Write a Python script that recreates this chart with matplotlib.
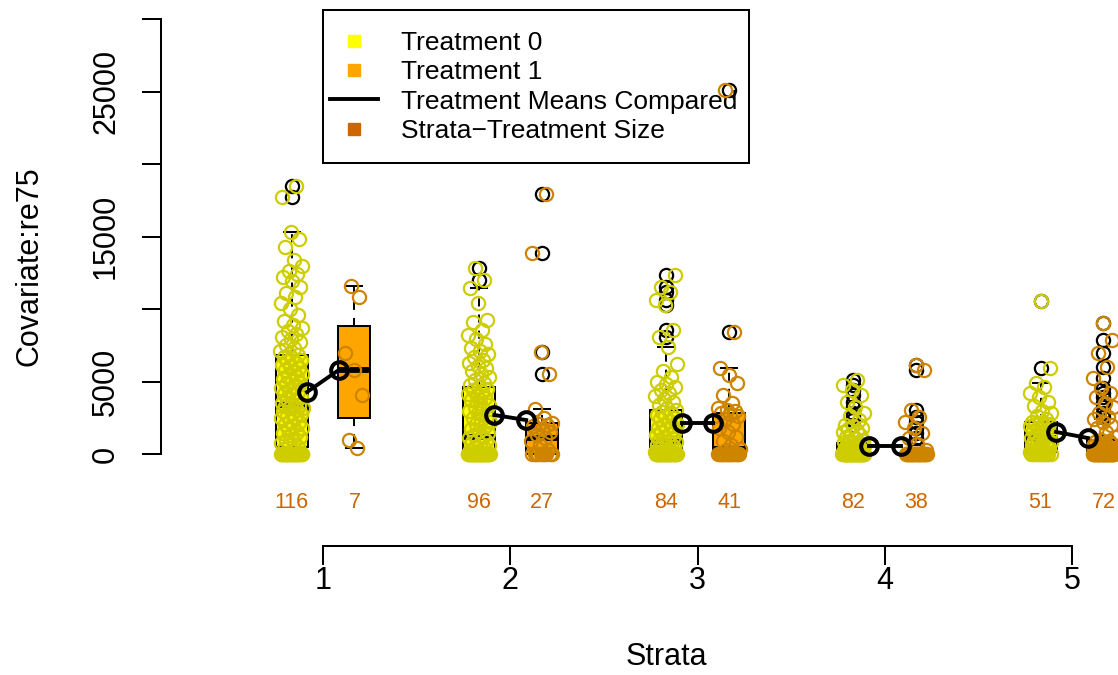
import numpy as np
import matplotlib
matplotlib.use('Agg')
import matplotlib.pyplot as plt
from matplotlib.lines import Line2D
from matplotlib.patches import Rectangle

plt.rcParams['font.family'] = ['Liberation Sans', 'DejaVu Sans']

# ---- data ----
strata = [1, 2, 3, 4, 5]
sizes_t0 = [116, 96, 84, 82, 51]
sizes_t1 = [7, 27, 41, 38, 72]
means_t0 = [4280, 2690, 2140, 550, 1520]
means_t1 = [5800, 2340, 2140, 550, 1100]

# box stats (q1, median, q3, whisker ends)
q1_t0 = [480, 0, 0, 0, 140]
med_t0 = [3380, 1170, 830, 0, 1100]
q3_t0 = [6830, 4620, 3030, 760, 2210]
lo_t0 = [0, 0, 0, 0, 0]
hi_t0 = [15300, 11450, 7380, 1900, 4900]

q1_t1 = [2480, 0, 0, 0, 0]
med_t1 = [5790, 1100, 350, 0, 0]
q3_t1 = [8830, 2140, 2830, 0, 970]
lo_t1 = [410, 0, 0, 0, 0]
hi_t1 = [11600, 3100, 5930, 0, 2400]

# re75 values per stratum / treatment
s1_t0 = [0] * 28 + [100, 200, 350, 480, 600, 750, 900, 1000, 1150, 1300, 1450, 1550, 1700, 1800, 1950,
                    2050, 2200, 2300, 2450, 2550, 2650, 2750, 2850, 2950, 3050, 3150, 3200, 3250, 3300, 3350,
                    3400, 3550, 3650, 3800, 3900, 4050, 4150, 4300, 4400, 4550, 4650, 4800, 4900, 5050, 5150,
                    5300, 5400, 5550, 5650, 5800, 5900, 6050, 6150, 6300, 6400, 6500, 6600, 6700, 6800,
                    6900, 7100, 7300, 7500, 7700, 7900, 8100, 8300, 8500, 8700, 8900, 9200, 9600, 10000,
                    10400, 10800, 11100, 11500, 11900, 12200, 12400, 12600, 13000, 13400, 14300, 14800,
                    15300, 17700, 18500]
s1_t1 = [410, 960, 4070, 5800, 7000, 10800, 11600]
s2_t0 = [0] * 36 + [100, 200, 300, 400, 500, 600, 700, 800, 900, 1000, 1100, 1170, 1300, 1450, 1600,
                    1750, 1900, 2050, 2200, 2350, 2500, 2650, 2800, 2950, 3100, 3250, 3400, 3550, 3700,
                    3850, 4000, 4150, 4300, 4400, 4500, 4600, 4750, 4900, 5100, 5300, 5500, 5700, 5900,
                    6100, 6300, 6500, 6700, 6900, 7100, 7300, 7600, 7900, 8200, 8550, 9100, 9240, 10400,
                    11450, 12000, 12830]
s2_t1 = [0] * 10 + [300, 600, 900, 1100, 1300, 1500, 1700, 1900, 2000, 2100, 2150, 2500, 3100, 5520,
                    7030, 13860, 17930]
s3_t0 = [0] * 32 + [80, 150, 250, 350, 450, 550, 650, 700, 780, 830, 900, 1000, 1100, 1200, 1300, 1400,
                    1500, 1600, 1700, 1800, 1900, 2000, 2100, 2250, 2400, 2500, 2600, 2700, 2800, 2900,
                    3030, 3200, 3400, 3600, 3800, 4000, 4200, 4400, 4600, 4800, 5000, 5300, 5700, 6200,
                    7380, 8070, 8550, 10280, 10620, 11170, 11500, 12340]
s3_t1 = [0] * 18 + [150, 250, 350, 600, 900, 1200, 1500, 1800, 2100, 2400, 2600, 2750, 2830, 2950, 3050,
                    3170, 3520, 4070, 4900, 5450, 5930, 8410, 25100]
s4_t0 = [0] * 45 + [100, 150, 200, 250, 300, 350, 400, 450, 500, 550, 600, 650, 700, 750, 800, 850, 900,
                    1000, 1100, 1200, 1300, 1400, 1500, 1600, 1700, 1800, 1900, 2000, 2340, 2600, 2830,
                    3240, 3600, 4100, 4410, 4760, 5100]
s4_t1 = [0] * 28 + [300, 700, 1100, 1450, 1790, 2210, 2550, 3030, 5790, 6140]
s5_t0 = [0] * 12 + [140, 200, 300, 400, 500, 600, 700, 800, 850, 900, 950, 1000, 1050, 1100, 1200, 1300,
                    1400, 1500, 1600, 1700, 1800, 1900, 2000, 2050, 2100, 2150, 2210, 2400, 2600, 2800,
                    3000, 3300, 3600, 3900, 4200, 4600, 4900, 5930, 10550]
s5_t1 = [0] * 38 + [60, 120, 180, 240, 300, 360, 420, 480, 540, 600, 660, 720, 780, 840, 900, 970, 1200,
                    1500, 1800, 2000, 2200, 2400, 2550, 2830, 3240, 3500, 3930, 4200, 4550, 5240, 6000,
                    6970, 7860, 9030]

vals_t0 = [s1_t0, s2_t0, s3_t0, s4_t0, s5_t0]
vals_t1 = [s1_t1, s2_t1, s3_t1, s4_t1, s5_t1]

legend_labels = ['Treatment 0', 'Treatment 1', 'Treatment Means Compared', 'Strata\u2212Treatment Size']

# ---- styles ----
box_col = {0: '#FFFF00', 1: '#FFA500'}
pt_col = {0: '#CDCD00', 1: '#CD8500'}
size_col = '#CD6600'
LW = 1.45

W, H = 1118, 675
fig = plt.figure(figsize=(W / 100, H / 100), dpi=100)

# axes placed so that stratum 1..5 and 0..30000 land where the reference has them
ax_l, ax_r, ax_t, ax_b = 161, 1171, -14, 546
ax = fig.add_axes([ax_l / W, (H - ax_b) / H, (ax_r - ax_l) / W, (ax_b - ax_t) / H])
ax.patch.set_visible(False)
xpx = lambda p: 1 + (p - 323) / 187.25
ypx = lambda p: (454 - p) / 14.5 * 1000

off_box = 0.168
off_mean = 0.085


def jitter(n):
    return (((np.arange(n) + 1) * 0.618034) % 1 - 0.5) * 0.12


for t, (q1, med, q3, lo, hi, vals) in enumerate([(q1_t0, med_t0, q3_t0, lo_t0, hi_t0, vals_t0),
                                                   (q1_t1, med_t1, q3_t1, lo_t1, hi_t1, vals_t1)]):
    pos = [s + (off_box if t else -off_box) for s in strata]
    stats = []
    for i in range(len(strata)):
        stats.append(dict(q1=q1[i], med=med[i], q3=q3[i], whislo=lo[i], whishi=hi[i],
                          fliers=[v for v in vals[i] if v > hi[i] or v < lo[i]]))
    ax.bxp(stats, positions=pos, widths=0.171, capwidths=0.085, patch_artist=True, manage_ticks=False,
           boxprops=dict(facecolor=box_col[t], edgecolor='black', linewidth=LW),
           medianprops=dict(color='black', linewidth=4.2, solid_capstyle='butt'),
           whiskerprops=dict(color='black', linewidth=LW, linestyle=(0, (4, 4))),
           capprops=dict(color='black', linewidth=LW),
           flierprops=dict(marker='o', markerfacecolor='none', markeredgecolor='black',
                           markersize=9.5, markeredgewidth=1.6))
    for i in range(len(strata)):
        v = np.array(vals[i])
        ax.plot(pos[i] + jitter(len(v)), v, linestyle='none', marker='o', mfc='none',
                mec=pt_col[t], ms=9.5, mew=1.6, zorder=4)

# treatment means
for i, s in enumerate(strata):
    ax.plot([s - off_mean, s + off_mean], [means_t0[i], means_t1[i]], color='black', lw=2.8,
            marker='o', mfc='none', mec='black', ms=12, mew=2.9, zorder=6)

# strata-treatment sizes
for i, s in enumerate(strata):
    ax.text(s - off_box, ypx(503), str(sizes_t0[i]), color=size_col, fontsize=15.5,
            ha='center', va='center')
    ax.text(s + off_box, ypx(503), str(sizes_t1[i]), color=size_col, fontsize=15.5,
            ha='center', va='center')

ax.set_xlim(xpx(ax_l), xpx(ax_r))
ax.set_ylim(ypx(ax_b), ypx(ax_t))

for side in ['top', 'right']:
    ax.spines[side].set_visible(False)
ax.spines['left'].set_bounds(0, 30000)
ax.spines['bottom'].set_bounds(1, 5)
ax.spines['left'].set_linewidth(LW)
ax.spines['bottom'].set_linewidth(LW)

ax.set_xticks(strata)
ax.set_xticklabels([str(s) for s in strata])
yt = list(range(0, 30001, 5000))
ax.set_yticks(yt)
ax.set_yticklabels(['0', '5000', '', '15000', '', '25000', ''])
ax.tick_params(axis='x', length=13.4, width=LW, pad=1, labelsize=22)
ax.tick_params(axis='y', length=13.4, width=LW, pad=26.2, labelsize=22, labelrotation=90)
plt.setp(ax.get_yticklabels(), ha='center', va='center')

# legend with a hand-drawn frame
handles = [Line2D([], [], linestyle='none', marker='s', mfc=box_col[0], mec=box_col[0], ms=8.6),
           Line2D([], [], linestyle='none', marker='s', mfc=box_col[1], mec=box_col[1], ms=8.6),
           Line2D([], [], color='black', lw=2.8),
           Line2D([], [], linestyle='none', marker='s', mfc=size_col, mec=size_col, ms=8.6)]
frame = Rectangle((323 / W, 1 - 163 / H), (749 - 323) / W, (163 - 10) / H, transform=fig.transFigure,
                  facecolor='white', edgecolor='black', lw=LW, zorder=1.5, clip_on=False)
ax.add_artist(frame)
leg = ax.legend(handles, legend_labels, loc='upper left', bbox_to_anchor=(330 / W, 1 - 31 / H),
                bbox_transform=fig.transFigure, borderaxespad=0, borderpad=0, frameon=False,
                handlelength=1.8, handletextpad=0.9, labelspacing=0.2, fontsize=19)
leg.set_zorder(2)

fig.text(29.3 / W, 1 - 266 / H, 'Covariate:re75', rotation=90, ha='center', va='center', fontsize=22)
fig.text(666 / W, 1 - 657 / H, 'Strata', ha='center', va='center', fontsize=22)

fig.savefig('out.png', dpi=100)
